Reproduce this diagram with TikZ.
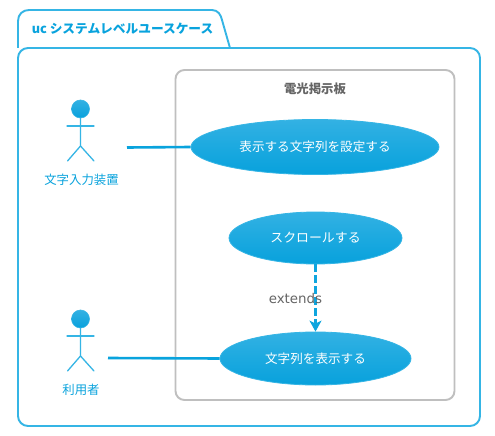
\documentclass[tikz,border=0pt]{standalone}
\usepackage{fontspec}
\setmainfont{Noto Sans CJK JP}
\newfontfamily\latinfont{DejaVu Sans}
\usetikzlibrary{shapes.geometric,arrows.meta}
\definecolor{ucblue}{HTML}{09A3DD}
\definecolor{ucline}{HTML}{35B5E5}
\definecolor{uctop}{HTML}{33B1E3}
\definecolor{ucbot}{HTML}{08A1DC}
\definecolor{ucgray}{HTML}{BFBFBF}
\definecolor{uctext}{HTML}{666666}
\tikzset{
  ucase/.style={ellipse,draw=ucline,line width=0.8pt,top color=uctop,bottom color=ucbot,middle color=ucblue!55!uctop,inner sep=0pt,text=white,font=\fontsize{12.6}{14}\selectfont},
  framel/.style={draw=ucline,line width=1.9pt,line join=round},
  stick/.style={draw=ucline,line width=1.3pt,line cap=round},
  head/.style={circle,draw=ucline,line width=0.6pt,top color=uctop,bottom color=ucbot,minimum size=18pt,inner sep=0pt},
  assoc/.style={draw=ucblue,line width=2.6pt},
  ext/.style={draw=ucblue!85!uctop,line width=2.8pt,dash pattern=on 7.5pt off 3.5pt,-{Stealth[length=11pt,width=12pt,inset=3pt]}},
  actorlabel/.style={text=ucblue,font=\fontsize{12.4}{14}\selectfont,inner sep=0pt}
}
\begin{document}
\begin{tikzpicture}[x=1pt,y=-1pt]
\useasboundingbox (0,0) rectangle (495,436);
\fill[white] (0,0) rectangle (495,436);
% frame
\draw[framel,rounded corners=10pt] (18,48) rectangle (480,426);
\draw[framel] (18,48) -- (18,21) .. controls (18,14) and (23,10) .. (29,10) -- (212,10)
  .. controls (218,10) and (221,15) .. (222,20) -- (230,48);
\node[text=ucblue,font=\fontsize{12.7}{15}\selectfont\bfseries,inner sep=0pt] (title) at (122.5,28.5) {uc システムレベルユースケース};
% boundary
\draw[draw=ucgray,fill=white,line width=1.9pt,rounded corners=9pt] (175.5,70) rectangle (454.5,400);
\node[text=uctext,font=\fontsize{12.4}{14}\selectfont\bfseries,inner sep=0pt] (systitle) at (315,88.5) {電光掲示板};
% use cases
\node[ucase,minimum width=248pt,minimum height=55pt] (e1) at (315,147) {表示する文字列を設定する};
\node[ucase,minimum width=173pt,minimum height=52pt] (e2) at (315.5,238) {\raisebox{1.5pt}{\fontsize{12.9}{14}\selectfont スクロールする}};
\node[ucase,minimum width=191pt,minimum height=53pt] (e3) at (315.5,358.5) {\raisebox{1.5pt}{文字列を表示する}};
% actor 1
\node[head] (h1) at (80.5,109) {};
\coordinate (c1) at (80.5,146);
\draw[stick] (h1.south) -- (c1) -- (67.5,161);
\draw[stick] (c1) -- (94,161);
\draw[stick] (67,126) -- (94,126);
\node[actorlabel] (l1) at (81.5,179.5) {文字入力装置};
% actor 2
\node[head] (h2) at (80.5,319) {};
\coordinate (c2) at (80.5,356);
\draw[stick] (h2.south) -- (c2) -- (67.5,371);
\draw[stick] (c2) -- (94,371);
\draw[stick] (67,336) -- (94,336);
\node[actorlabel] (l2) at (81,389.5) {利用者};
% connectors
\coordinate (a1) at (127,147.5);
\coordinate (a2) at (108,358);
\draw[assoc] (a1) -- (e1.west);
\draw[assoc] (a2) -- (e3.west);
\draw[ext] (e2.south) -- (e3.north);
\node[text=uctext,font=\latinfont\fontsize{13.4}{15}\selectfont,inner sep=0pt] (lab) at (295.5,299) {extends};
\end{tikzpicture}
\end{document}
